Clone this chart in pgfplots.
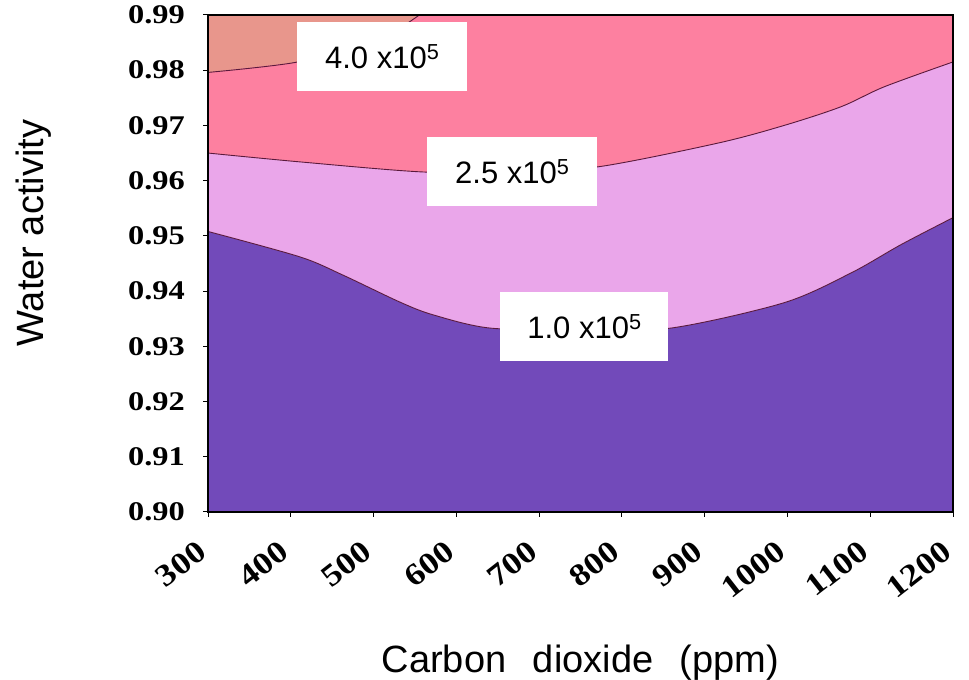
\documentclass[border=0pt]{standalone}
\usepackage{graphicx}
\usepackage{pgfplots}
\pgfplotsset{compat=1.18}
\usepackage{pgfplotstable}
\usepgfplotslibrary{fillbetween}
\usepackage{fontspec}
\setmainfont{Liberation Sans}
\newfontfamily\tickfont{Liberation Serif}
\definecolor{cdark}{RGB}{114,74,186}
\definecolor{clight}{RGB}{234,166,234}
\definecolor{cpink}{RGB}{253,128,160}
\definecolor{csalmon}{RGB}{232,150,140}
\definecolor{cline}{RGB}{90,25,60}
\pgfplotstableread{
x y
300 0.9508
411 0.9462
463 0.9429
532 0.9380
572 0.9357
641 0.9333
750 0.9330
859 0.9333
996 0.9379
1077 0.9433
1137 0.9484
1200 0.9533
}\cone
\pgfplotstableread{
x y
300 0.9650
411 0.9634
556 0.9616
660 0.9615
771 0.9625
916 0.9668
996 0.9700
1065 0.9734
1117 0.9770
1200 0.9815
}\ctwo
\pgfplotstableread{
x y
300 0.9796
405 0.9814
500 0.9850
560 0.9905
}\cthree
\begin{document}
\begin{tikzpicture}
\begin{axis}[
  name=ax,
  scale only axis,
  width=745pt, height=497pt,
  xmin=300, xmax=1200, ymin=0.90, ymax=0.99,
  xtick={300,400,...,1200},
  ytick={0.90,0.91,...,0.991},
  xtick pos=bottom, ytick pos=left,
  tick align=outside,
  major tick length=5pt,
  tick style={black, line width=1pt},
  axis line style={black, line width=1.6pt},
  axis on top,
  /pgf/number format/assume math mode=true,
  yticklabel style={/pgf/number format/fixed, /pgf/number format/fixed zerofill, /pgf/number format/precision=2},
  xticklabel={\scalebox{1.15}[1]{\pgfmathprintnumber[fixed,1000 sep={}]{\tick}}},
  y tick label style={font=\tickfont\bfseries\fontsize{27}{30}\selectfont, anchor=east, inner sep=0pt, xshift=-18pt, xscale=1.2},
  x tick label style={font=\tickfont\bfseries\fontsize{31}{33}\selectfont, anchor=east, inner sep=0pt, xshift=-6pt, yshift=-30pt, rotate=38},
  xlabel={Carbon\hspace{0.7em}dioxide\hspace{0.7em}(ppm)},
  ylabel={Water activity},
  xlabel style={font=\fontsize{38}{42}\selectfont, at={(axis description cs:0.5,-0.304)}, anchor=center},
  ylabel style={font=\fontsize{38}{42}\selectfont, at={(axis description cs:-0.2336,0.561)}, anchor=center},
]
\addplot[name path=bot, draw=none] coordinates {(300,0.90) (1200,0.90)};
\addplot[name path=top, draw=none] coordinates {(300,0.99) (1200,0.99)};
\addplot[name path=c1, draw=none, smooth] table {\cone};
\addplot[name path=c2, draw=none, smooth] table {\ctwo};
\addplot[cdark, draw=none] fill between[of=c1 and bot];
\addplot[clight, draw=none] fill between[of=c2 and c1];
\addplot[cpink, draw=none] fill between[of=top and c2];
\addplot[fill=csalmon, draw=none] coordinates {(300,0.9796) (405,0.9814) (500,0.9850) (556,0.99) (300,0.99)} --cycle;
\addplot[cline, line width=0.9pt, smooth] table {\cone};
\addplot[cline, line width=0.9pt, smooth] table {\ctwo};
\addplot[cline, line width=0.9pt, smooth] table {\cthree};
\node[fill=white, minimum width=170pt, minimum height=69pt, inner sep=0pt, font=\fontsize{31}{33}\selectfont] at (axis cs:510.5,0.9824) {4.0 x10\textsuperscript{5}};
\node[fill=white, minimum width=170pt, minimum height=69pt, inner sep=0pt, font=\fontsize{31}{33}\selectfont] at (axis cs:667.7,0.9616) {2.5 x10\textsuperscript{5}};
\node[fill=white, minimum width=168pt, minimum height=69pt, inner sep=0pt, font=\fontsize{31}{33}\selectfont] at (axis cs:754.8,0.9335) {1.0 x10\textsuperscript{5}};
\end{axis}
\pgfresetboundingbox
\path[use as bounding box] ([xshift=-208pt,yshift=-168pt]ax.south west) rectangle ([xshift=16pt,yshift=15pt]ax.north east);
\end{tikzpicture}
\end{document}
